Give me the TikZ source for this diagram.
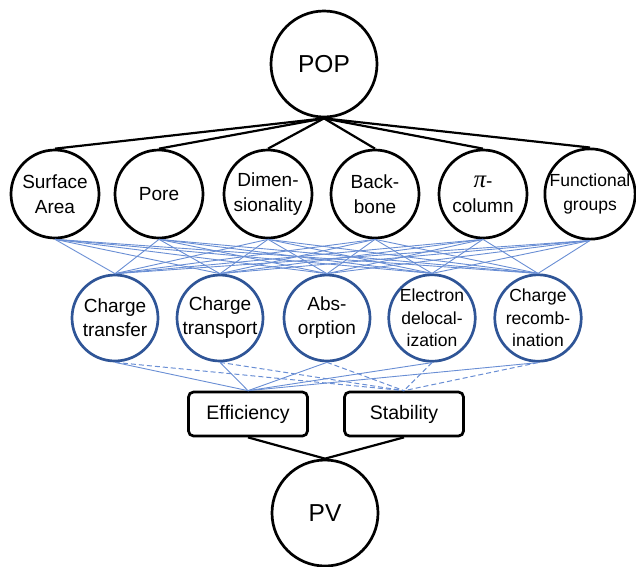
\documentclass[tikz,border=0pt]{standalone}
\usepackage{fontspec}
\setmainfont{Liberation Sans}
\newfontfamily\grkfont{Liberation Serif}
\definecolor{nodeblue}{RGB}{47,85,151}
\definecolor{lineblue}{RGB}{105,142,212}
\begin{document}
\begin{tikzpicture}[x=1pt,y=-1pt,
  bigc/.style={circle,draw=black,line width=2.7pt,minimum size=106pt,inner sep=0pt,font=\fontsize{24.5}{28}\selectfont},
  topc/.style={circle,draw=black,line width=2.7pt,minimum size=88pt,inner sep=0pt,align=center,font=\fontsize{19}{25}\selectfont},
  bluec/.style={circle,draw=nodeblue,line width=2.7pt,minimum size=86pt,inner sep=0pt,align=center,font=\fontsize{19}{24}\selectfont},
  outbox/.style={rectangle,rounded corners=5pt,draw=black,line width=2.7pt,minimum width=119pt,minimum height=44pt,inner sep=0pt,font=\fontsize{19.5}{24}\selectfont},
  blackline/.style={draw=black,line width=2.2pt},
  thinblue/.style={draw=lineblue,line width=0.9pt},
  dashblue/.style={draw=lineblue,line width=1pt,dash pattern=on 5pt off 3pt}
]
\useasboundingbox (0,0) rectangle (636,566);

\node[bigc] (pop) at (324,64) {POP};

\node[topc] (sa)   at (55,194)  {Surface\\Area};
\node[topc] (pore) at (159,194) {Pore};
\node[topc] (dim)  at (268,194) {Dimen-\\sionality};
\node[topc] (bb)   at (375,194) {Back-\\bone};
\node[topc] (pic)  at (483,194) {{\grkfont\itshape\fontsize{25}{25}\selectfont π}-\\column};
\node[topc,font=\fontsize{17.5}{24}\selectfont] (fg) at (590,194) {Functional\\groups};

\node[bluec] (ct)  at (115,318) {Charge\\transfer};
\node[bluec] (ctr) at (220,318) {\raisebox{3pt}{Charge}\\\raisebox{3pt}{transport}};
\node[bluec] (abs) at (327,318) {Abs-\\orption};
\node[bluec,font=\fontsize{17.5}{22.5}\selectfont] (ed) at (432,318) {Electron\\delocal-\\ization};
\node[bluec,font=\fontsize{17.5}{22.5}\selectfont] (cr) at (538,318) {Charge\\recomb-\\ination};

\node[outbox] (eff)  at (248,414) {Efficiency};
\node[outbox] (stab) at (404,414) {Stability};

\node[bigc] (pv) at (325,513) {PV};

\foreach \t in {sa,pore,dim,bb,pic,fg}
  \draw[blackline] (pop.south) -- (\t.north);

\foreach \t in {sa,pore,dim,bb,pic,fg}
  \foreach \b in {ct,ctr,abs,ed,cr}
    \draw[thinblue] (\t.south) -- (\b.north);

\foreach \b in {ct,ctr,abs,ed,cr}{
  \draw[thinblue] (\b.south) -- (eff.north);
  \draw[dashblue] (\b.south) -- (stab.north);
}

\draw[blackline] (eff.south) -- (pv.north);
\draw[blackline] (stab.south) -- (pv.north);
\end{tikzpicture}
\end{document}
